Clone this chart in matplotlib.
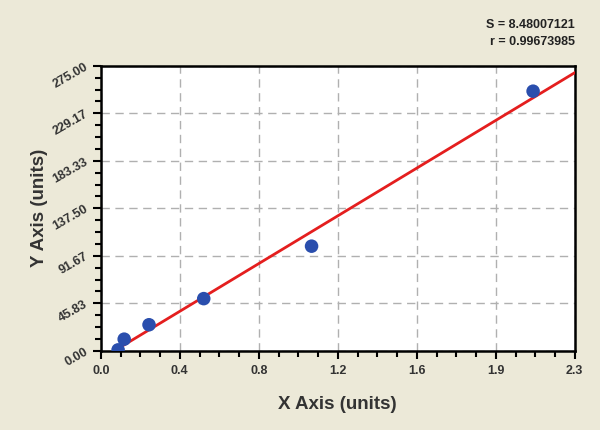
import numpy as np
import matplotlib.pyplot as plt
from matplotlib.ticker import AutoMinorLocator

# data
x_vals = [0.085, 0.115, 0.237, 0.506, 1.036, 2.125]
y_vals = [0.97, 11.3, 25.2, 50.4, 101.0, 250.5]

x_ticks = np.linspace(0, 2.33, 7)
x_tick_labels = ["0.0", "0.4", "0.8", "1.2", "1.6", "1.9", "2.3"]
y_ticks = np.linspace(0, 275, 7)
y_tick_labels = ["0.00", "45.83", "91.67", "137.50", "183.33", "229.17", "275.00"]

stats_text = "S = 8.48007121\nr = 0.99673985"

plt.rcParams['font.family'] = ['Liberation Sans', 'DejaVu Sans']
bg = '#ECE9D8'

fig = plt.figure(figsize=(6, 4.3), dpi=100, facecolor=bg)
ax = fig.add_axes([0.168, 0.184, 0.79, 0.663])

# regression line across the axis range
slope, intercept = np.polyfit(x_vals, y_vals, 1)
line_x = np.array([-intercept / slope, 2.33])
ax.plot(line_x, slope * line_x + intercept, color='#E41E1E', linewidth=2, zorder=3)

ax.scatter(x_vals, y_vals, s=95, color='#2A4EAD', edgecolors='none', zorder=4)

ax.set_xlim(0, 2.33)
ax.set_ylim(0, 275)
ax.set_xticks(x_ticks)
ax.set_xticklabels(x_tick_labels, fontsize=9, fontweight='bold', color='#333333')
ax.set_yticks(y_ticks)
ax.set_yticklabels(y_tick_labels, fontsize=9, fontweight='bold', color='#333333',
                   rotation=30, ha='right', va='center', rotation_mode='anchor')
ax.xaxis.set_minor_locator(AutoMinorLocator(4))
ax.yaxis.set_minor_locator(AutoMinorLocator(4))
ax.tick_params(which='major', direction='out', length=6, width=1.5, color='black', pad=4)
ax.tick_params(which='minor', direction='out', length=4, width=1.5, color='black')

ax.grid(True, which='major', linestyle=(0, (6, 4)), color='#B0B0B0', linewidth=1)
for side in ax.spines.values():
    side.set_linewidth(1.8)

ax.set_xlabel("X Axis (units)", fontsize=13.5, fontweight='bold', color='#333333', labelpad=14)
ax.set_ylabel("Y Axis (units)", fontsize=13.5, fontweight='bold', color='#333333', labelpad=2)

fig.text(0.958, 0.922, stats_text, ha='right', va='center', fontsize=9,
         fontweight='bold', color='#222222', linespacing=1.6)

fig.savefig("out.png", dpi=100, facecolor=bg)
plt.close()
